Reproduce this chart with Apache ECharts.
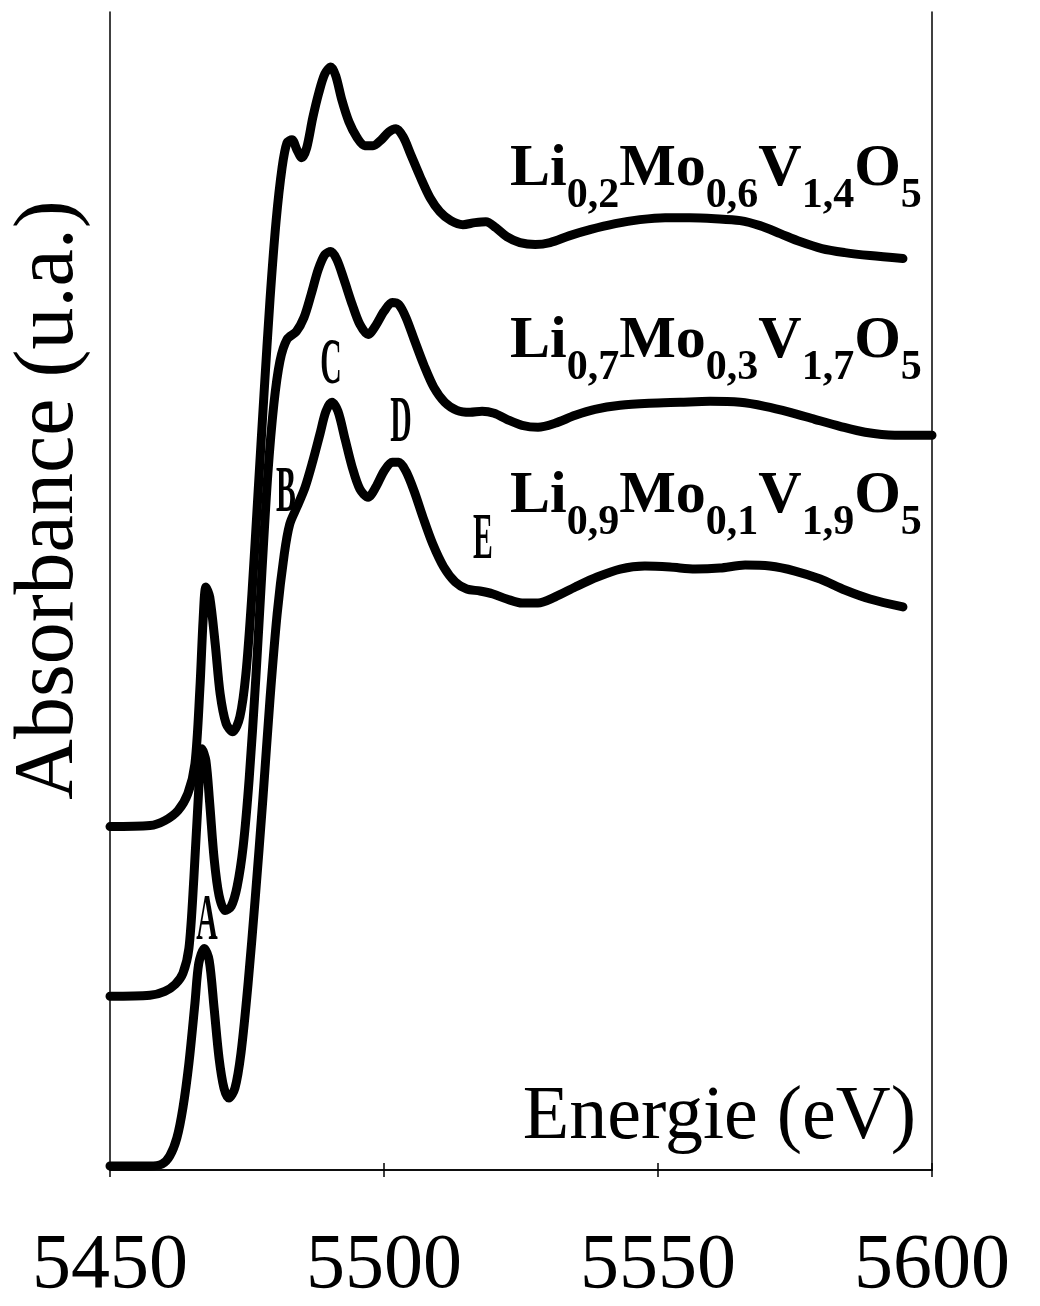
<!DOCTYPE html>
<html><head><meta charset="utf-8">
<script src="https://cdn.jsdelivr.net/npm/echarts@6/dist/echarts.min.js"></script>
<style>html,body{margin:0;padding:0;background:#fff}#c{width:1040px;height:1306px}</style>
</head><body><div id="c"></div>
<script>
// Energy axis ticks (eV)
const xTicks = [5450, 5500, 5550, 5600];

// Li0,2Mo0,6V1,4O5 (top curve)
const energyTop = [5450.0,5457.3,5460.0,5462.4,5464.2,5465.5,5466.4,5467.0,5467.5,5468.2,5469.2,5470.1,5471.2,5472.4,5473.7,5474.8,5475.9,5477.0,5478.1,5479.2,5480.3,5481.4,5482.3,5483.2,5484.1,5485.0,5485.9,5487.0,5488.1,5489.2,5490.3,5491.2,5492.3,5493.6,5495.1,5496.5,5498.0,5499.5,5500.9,5502.2,5503.5,5504.9,5506.6,5508.4,5510.2,5512.2,5514.4,5516.6,5518.6,5520.4,5522.4,5524.8,5527.6,5530.3,5533.9,5537.6,5542.2,5546.7,5551.3,5555.8,5560.4,5565.0,5568.6,5572.3,5575.9,5579.9,5584.1,5588.7,5594.7];
const absTop = [3.44,3.45,3.50,3.60,3.77,4.07,4.82,5.52,5.84,5.74,5.27,4.77,4.47,4.39,4.54,4.97,5.77,6.77,7.77,8.72,9.50,10.04,10.29,10.32,10.22,10.14,10.24,10.54,10.79,10.98,11.05,10.96,10.72,10.50,10.34,10.26,10.26,10.32,10.40,10.43,10.35,10.17,9.95,9.74,9.60,9.51,9.47,9.49,9.50,9.44,9.35,9.29,9.27,9.29,9.36,9.42,9.48,9.52,9.54,9.54,9.53,9.51,9.46,9.38,9.30,9.23,9.19,9.16,9.13];

// Li0,7Mo0,3V1,7O5 (middle curve)
const energyMid = [5450.0,5457.3,5460.0,5461.9,5463.3,5464.4,5465.3,5466.1,5466.8,5467.5,5468.2,5469.0,5469.9,5471.0,5472.1,5473.2,5474.3,5475.4,5476.6,5477.7,5478.8,5479.9,5481.0,5482.3,5484.0,5485.4,5486.7,5488.0,5489.2,5490.3,5491.4,5492.7,5494.2,5495.6,5497.1,5498.5,5500.0,5501.5,5502.7,5504.0,5505.5,5507.3,5509.1,5511.1,5513.3,5515.7,5517.9,5520.1,5522.4,5525.2,5528.1,5531.2,5534.9,5538.5,5543.1,5548.5,5554.0,5559.5,5565.0,5569.5,5574.1,5578.6,5583.2,5587.8,5593.2,5600.0];
const absMid = [1.74,1.75,1.79,1.86,1.97,2.22,2.92,3.72,4.22,4.10,3.67,3.12,2.75,2.60,2.64,2.84,3.24,3.92,4.92,5.97,6.97,7.67,8.10,8.32,8.40,8.54,8.77,9.02,9.17,9.20,9.12,8.92,8.67,8.47,8.37,8.46,8.60,8.69,8.67,8.54,8.32,8.06,7.84,7.69,7.61,7.59,7.60,7.58,7.52,7.46,7.44,7.48,7.56,7.62,7.66,7.68,7.69,7.70,7.69,7.65,7.59,7.52,7.45,7.39,7.36,7.36];

// Li0,9Mo0,1V1,9O5 (bottom curve)
const energyBot = [5450.0,5457.3,5459.5,5460.9,5462.2,5463.3,5464.4,5465.5,5466.2,5467.2,5468.1,5469.0,5469.9,5470.8,5471.7,5472.8,5473.9,5475.2,5476.5,5477.9,5479.2,5480.5,5481.8,5482.8,5484.1,5485.6,5487.0,5488.3,5489.4,5490.5,5491.6,5492.9,5494.2,5495.6,5497.1,5498.5,5500.0,5501.5,5502.7,5504.0,5505.5,5507.1,5508.9,5510.9,5513.0,5515.1,5517.5,5519.9,5522.4,5525.2,5528.1,5531.2,5534.9,5538.9,5543.1,5547.6,5552.2,5556.8,5561.3,5565.9,5570.4,5575.0,5579.6,5584.1,5588.7,5594.7];
const absBot = [0.04,0.04,0.06,0.14,0.32,0.62,1.07,1.67,2.07,2.22,2.10,1.62,1.12,0.82,0.72,0.82,1.17,1.87,2.72,3.72,4.72,5.57,6.17,6.47,6.64,6.84,7.10,7.37,7.60,7.69,7.60,7.32,7.04,6.82,6.74,6.84,7.00,7.09,7.09,7.00,6.80,6.54,6.27,6.04,5.89,5.82,5.80,5.77,5.72,5.68,5.68,5.74,5.84,5.94,6.02,6.05,6.04,6.02,6.03,6.06,6.05,6.00,5.92,5.81,5.72,5.64];

const seriesNames = ['Li0,2Mo0,6V1,4O5','Li0,7Mo0,3V1,7O5','Li0,9Mo0,1V1,9O5'];
// formula pieces: [text, isSubscript]
const formulaParts = [
  [['Li',0],['0,2',1],['Mo',0],['0,6',1],['V',0],['1,4',1],['O',0],['5',1]],
  [['Li',0],['0,7',1],['Mo',0],['0,3',1],['V',0],['1,7',1],['O',0],['5',1]],
  [['Li',0],['0,9',1],['Mo',0],['0,1',1],['V',0],['1,9',1],['O',0],['5',1]]
];
const peakLetters = ['A','B','C','D','E'];
const xName = 'Energie (eV)';
const yName = 'Absorbance (u.a.)';

const zip = (xs, ys) => xs.map((x, i) => [x, ys[i]]);
const serif = 'Liberation Serif';

const lineStyle = {color: '#000', width: 9, cap: 'round', join: 'round'};
function mkSeries(name, xs, ys) {
  return {name, type: 'line', data: zip(xs, ys), showSymbol: false, symbol: 'none',
    smooth: 0.3, lineStyle, animation: false, xAxisIndex: 0, yAxisIndex: 0};
}

// layout for formula labels
const mainSize = 60, subSize = 42, subDrop = 20, midToBase = 0.3375;
const formulaAnchor = [[510, 190], [510, 362], [510, 517]]; // [left x, main baseline y]
const measureCtx = document.createElement('canvas').getContext('2d');
function textW(t, size) {
  measureCtx.font = `bold ${size}px "${serif}"`;
  return measureCtx.measureText(t).width;
}

const graphic = [];
formulaParts.forEach((parts, i) => {
  let x = formulaAnchor[i][0];
  const base = formulaAnchor[i][1];
  parts.forEach(([t, sub]) => {
    const size = sub ? subSize : mainSize;
    const by = sub ? base + subDrop : base;
    graphic.push({type: 'text', x: x, y: by - midToBase * size, z: 10,
      style: {text: t, fontFamily: serif, fontWeight: 'bold', fontSize: size, fill: '#000',
        align: 'left', verticalAlign: 'middle'}});
    x += textW(t, size);
  });
});

const letterPos = [[207, 922], [286, 494], [331, 366], [401, 424], [483, 541]];
letterPos.forEach((pos, i) => {
  graphic.push({type: 'text', x: pos[0], y: pos[1], scaleX: 0.45, z: 10,
    style: {text: peakLetters[i], fontFamily: serif, fontSize: 66, fill: '#000',
      align: 'center', verticalAlign: 'middle', fontWeight: 'bold'}});
});
graphic.push({type: 'text', x: 916, y: 1118, z: 10,
  style: {text: xName, fontFamily: serif, fontSize: 76, fill: '#000', align: 'right', verticalAlign: 'middle'}});
graphic.push({type: 'text', x: 50, y: 500, rotation: Math.PI / 2, z: 10,
  style: {text: yName, fontFamily: serif, fontSize: 84, fill: '#000', align: 'center', verticalAlign: 'middle'}});

const axisLine = {show: true, lineStyle: {color: '#000', width: 1.5}};
const option = {
  backgroundColor: '#fff',
  animation: false,
  grid: {left: 110, right: 108, top: 12, bottom: 134, containLabel: false},
  xAxis: [
    {type: 'value', min: xTicks[0], max: xTicks[xTicks.length - 1], interval: 50, position: 'bottom',
      axisLine, axisTick: {show: true, inside: true, length: 7, lineStyle: {color: '#000', width: 1.5}},
      splitLine: {show: false},
      axisLabel: {show: true, margin: 58, fontFamily: serif, fontSize: 78, color: '#000',
        formatter: v => String(v)}},
    {type: 'value', min: xTicks[0], max: xTicks[xTicks.length - 1], interval: 50, position: 'top',
      axisLine, axisTick: {show: true, inside: true, length: 7, lineStyle: {color: '#000', width: 1.5}},
      splitLine: {show: false}, axisLabel: {show: false}}
  ],
  yAxis: [
    {type: 'value', min: 0, max: 11.6, position: 'left', axisLine, axisTick: {show: false},
      axisLabel: {show: false}, splitLine: {show: false}},
    {type: 'value', min: 0, max: 11.6, position: 'right', axisLine, axisTick: {show: false},
      axisLabel: {show: false}, splitLine: {show: false}}
  ],
  series: [
    mkSeries(seriesNames[0], energyTop, absTop),
    mkSeries(seriesNames[1], energyMid, absMid),
    mkSeries(seriesNames[2], energyBot, absBot)
  ],
  graphic
};
const chart = echarts.init(document.getElementById('c'), null, {renderer: 'canvas'});
chart.setOption(option);
</script></body></html>
